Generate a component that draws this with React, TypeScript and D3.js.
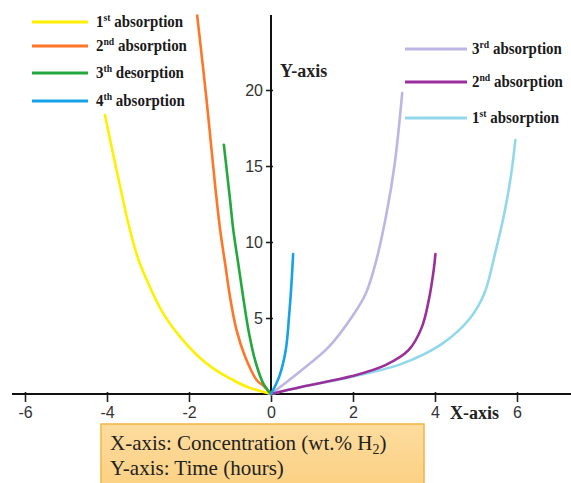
/* eslint-disable */
import React, { useRef, useEffect } from "react";
import * as d3 from "d3";

// axis ticks
const xTickValues = [-6, -4, -2, 0, 2, 4, 6];
const yTickValues = [5, 10, 15, 20];

// left side curves (x: concentration, y: time)
const abs1LeftX = [0, -0.59, -1.0, -1.41, -1.81, -2.22, -2.63, -3.03, -3.24, -3.46, -3.66, -3.86, -4.05];
const abs1LeftY = [0, 0.48, 1.03, 1.69, 2.57, 3.77, 5.3, 7.5, 8.9, 11.0, 13.4, 15.9, 18.35];
const abs2LeftX = [0, -0.16, -0.35, -0.63, -0.84, -1.0, -1.12, -1.24, -1.37, -1.57, -1.8];
const abs2LeftY = [0, 0.48, 0.92, 2.45, 4.2, 6.4, 8.6, 10.8, 13.9, 19.3, 24.9];
const des3LeftX = [0, -0.19, -0.39, -0.55, -0.68, -0.8, -0.92, -1.0, -1.15];
const des3LeftY = [0, 0.7, 2.24, 4.2, 6.4, 8.6, 10.8, 12.8, 16.4];
const abs4LeftX = [0, 0.2, 0.36, 0.44, 0.5, 0.54];
const abs4LeftY = [0, 1.14, 2.9, 5.1, 7.3, 9.2];

// right side curves
const abs3RightX = [0, 0.76, 1.41, 1.98, 2.31, 2.55, 2.82, 3.02, 3.2];
const abs3RightY = [0, 1.6, 3.1, 5.1, 6.6, 8.6, 11.9, 15.2, 19.8];
const abs2RightX = [0, 0.76, 1.98, 2.79, 3.36, 3.68, 3.85, 3.97, 4.01];
const abs2RightY = [0, 0.48, 1.18, 1.9, 2.9, 4.4, 6.2, 8.2, 9.2];
const abs1RightX = [0, 0.76, 1.98, 3.2, 4.17, 4.83, 5.2, 5.47, 5.7, 5.86, 5.96];
const abs1RightY = [0, 0.48, 1.14, 2.0, 3.3, 4.9, 6.6, 9.3, 12.0, 14.5, 16.7];

// legend labels: [number, superscript, rest]
const leftLegendLabels = [
  ["1", "st", " absorption"],
  ["2", "nd", " absorption"],
  ["3", "th", " desorption"],
  ["4", "th", " absorption"],
];
const rightLegendLabels = [
  ["3", "rd", " absorption"],
  ["2", "nd", " absorption"],
  ["1", "st", " absorption"],
];
const leftColors = ["#fff000", "#ff7628", "#22a83c", "#16a2e6"];
const rightColors = ["#bdb5e4", "#9a2f9c", "#92d8ec"];

const App = () => {
  const svgRef = useRef<SVGSVGElement>(null);

  useEffect(() => {
    if (!svgRef.current) return;
    const svg = d3.select(svgRef.current);
    svg.selectAll("*").remove();

    const width = 571;
    const height = 483;

    const x = d3.scaleLinear([-6, 6], [25, 517]);
    const y = d3.scaleLinear([0, 20], [394, 90]);

    const zip = (xs: number[], ys: number[]) =>
      xs.map((v, i) => [v, ys[i]] as [number, number]);

    const series = [
      { pts: zip(abs1LeftX, abs1LeftY), color: leftColors[0] },
      { pts: zip(abs2LeftX, abs2LeftY), color: leftColors[1] },
      { pts: zip(des3LeftX, des3LeftY), color: leftColors[2] },
      { pts: zip(abs1RightX, abs1RightY), color: rightColors[2] },
      { pts: zip(abs3RightX, abs3RightY), color: rightColors[0] },
      { pts: zip(abs2RightX, abs2RightY), color: rightColors[1] },
      { pts: zip(abs4LeftX, abs4LeftY), color: leftColors[3] },
    ];

    svg.attr("width", width).attr("height", height);

    // x-axis
    const gx = svg
      .append("g")
      .attr("transform", `translate(0,${y(0)})`)
      .call(
        d3
          .axisBottom(x)
          .tickValues(xTickValues)
          .tickSize(8)
          .tickPadding(5)
          .tickFormat((d) => String(d))
      )
      .call((g) => g.select(".domain").remove())
      .attr("font-size", 16)
      .attr("font-family", "'Liberation Sans', sans-serif");
    gx.selectAll(".tick line").attr("y1", -2).attr("stroke", "#222").attr("stroke-width", 1.6);
    gx.selectAll(".tick text").attr("fill", "#333");
    gx.append("line")
      .attr("x1", 12)
      .attr("x2", width)
      .attr("stroke", "#111")
      .attr("stroke-width", 2);

    // y-axis
    const gy = svg
      .append("g")
      .attr("transform", `translate(${x(0)},0)`)
      .call(
        d3
          .axisLeft(y)
          .tickValues(yTickValues)
          .tickSize(5)
          .tickPadding(3)
      )
      .call((g) => g.select(".domain").remove())
      .attr("font-size", 16)
      .attr("font-family", "'Liberation Sans', sans-serif");
    gy.selectAll(".tick line").attr("x1", 2).attr("stroke", "#222").attr("stroke-width", 1.6);
    gy.selectAll(".tick text").attr("fill", "#333");
    gy.append("line")
      .attr("y1", y(0))
      .attr("y2", 15)
      .attr("stroke", "#111")
      .attr("stroke-width", 2);

    // axis names
    svg
      .append("text")
      .attr("x", 280)
      .attr("y", 77)
      .attr("font-family", "'Liberation Serif', serif")
      .attr("font-weight", "bold")
      .attr("font-size", 18)
      .attr("fill", "#222")
      .text("Y-axis");
    svg
      .append("text")
      .attr("x", 450)
      .attr("y", 419)
      .attr("font-family", "'Liberation Serif', serif")
      .attr("font-weight", "bold")
      .attr("font-size", 18)
      .attr("fill", "#222")
      .text("X-axis");

    // curves
    const line = d3
      .line<[number, number]>()
      .x((d) => x(d[0]))
      .y((d) => y(d[1]))
      .curve(d3.curveCatmullRom.alpha(0.5));

    svg
      .append("g")
      .selectAll("path")
      .data(series)
      .join("path")
      .attr("fill", "none")
      .attr("stroke", (d) => d.color)
      .attr("stroke-width", 2.6)
      .attr("stroke-linecap", "round")
      .attr("d", (d) => line(d.pts));

    // legends
    const drawLegend = (
      labels: string[][],
      colors: string[],
      x1: number,
      x2: number,
      tx: number,
      ys: number[]
    ) => {
      const g = svg.append("g");
      labels.forEach((lab, i) => {
        g.append("line")
          .attr("x1", x1)
          .attr("x2", x2)
          .attr("y1", ys[i])
          .attr("y2", ys[i])
          .attr("stroke", colors[i])
          .attr("stroke-width", 3);
        const t = g
          .append("text")
          .attr("transform", `translate(${tx},${ys[i] + 5}) scale(0.88,1)`)
          .attr("font-family", "'Liberation Serif', serif")
          .attr("font-weight", "bold")
          .attr("font-size", 17)
          .attr("fill", "#1a1a1a");
        t.append("tspan").text(lab[0]);
        t.append("tspan")
          .attr("font-size", 11)
          .attr("dy", -6)
          .text(lab[1]);
        t.append("tspan").attr("dy", 6).text(lab[2]);
      });
    };
    drawLegend(leftLegendLabels, leftColors, 32, 88, 96, [22, 46, 73, 101]);
    drawLegend(rightLegendLabels, rightColors, 405, 467, 472, [49, 82, 118]);

    // caption box
    const grad = svg
      .append("defs")
      .append("linearGradient")
      .attr("id", "boxFill")
      .attr("x1", 0)
      .attr("y1", 0)
      .attr("x2", 0)
      .attr("y2", 1);
    grad.append("stop").attr("offset", "0%").attr("stop-color", "#fddc9e");
    grad.append("stop").attr("offset", "100%").attr("stop-color", "#fbcf80");

    svg
      .append("rect")
      .attr("x", 101)
      .attr("y", 424)
      .attr("width", 323)
      .attr("height", 70)
      .attr("fill", "url(#boxFill)")
      .attr("stroke", "#f3b540")
      .attr("stroke-width", 1.5);

    const cap1 = svg
      .append("text")
      .attr("x", 110)
      .attr("y", 450)
      .attr("font-family", "'Liberation Serif', serif")
      .attr("font-size", 21)
      .attr("fill", "#222");
    cap1.append("tspan").text("X-axis: Concentration (wt.% H");
    cap1.append("tspan").attr("font-size", 14).attr("dy", 4).text("2");
    cap1.append("tspan").attr("dy", -4).text(")");

    svg
      .append("text")
      .attr("x", 110)
      .attr("y", 475)
      .attr("font-family", "'Liberation Serif', serif")
      .attr("font-size", 21)
      .attr("fill", "#222")
      .text("Y-axis: Time (hours)");
  }, []);

  return (
    <svg
      ref={svgRef}
      style={{ position: "absolute", left: 0, top: 0, background: "#fff" }}
    ></svg>
  );
};

export default App;
